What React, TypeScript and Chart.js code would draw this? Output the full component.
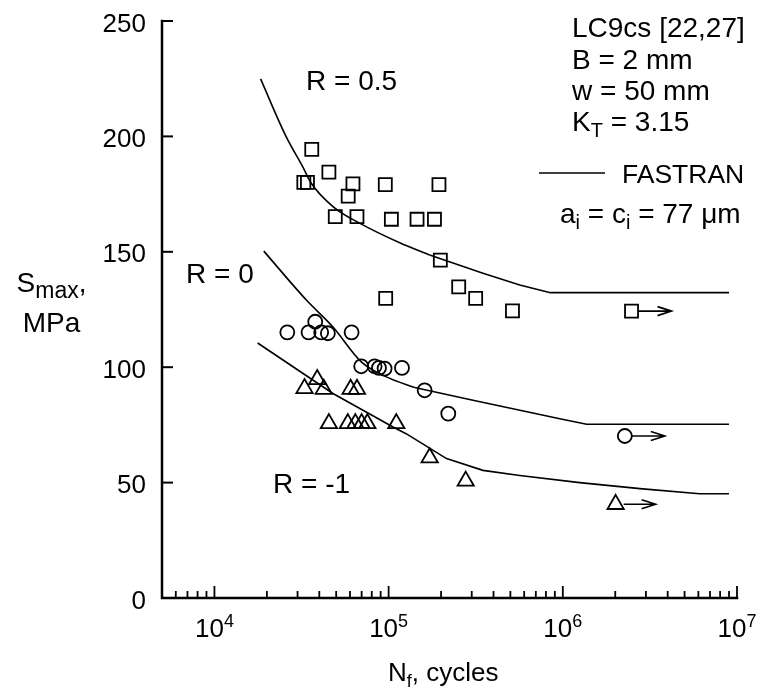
import { useEffect, useRef } from 'react';
import { Chart, registerables } from 'chart.js';

Chart.register(...registerables);

const FONT = '"Liberation Sans", Arial, Helvetica, sans-serif';

// Test results, R = 0.5 (squares)
const sqN = [36200, 45400, 32600, 34200, 62400, 95700, 194500, 58600, 49400, 65800, 103700, 145600, 183300, 198100, 252500, 316000, 96200, 514000];
const sqS = [194.4, 184.5, 180.1, 180.1, 179.4, 179.1, 179.1, 174.1, 165.2, 165.2, 164.1, 164.1, 164.1, 146.4, 134.8, 129.8, 129.8, 124.4];
// Test results, R = 0 (circles)
const ciN = [26200, 34700, 37900, 41000, 44800, 61300, 69600, 83100, 88000, 94800, 119300, 161000, 220000];
const ciS = [115.1, 115.1, 119.7, 115.1, 114.7, 115.1, 100.4, 100.4, 99.7, 99.4, 99.7, 90.0, 79.9];
// Test results, R = -1 (triangles)
const trN = [32900, 38900, 42400, 60500, 65800, 45400, 58300, 64400, 70000, 75500, 110700, 172000, 277000];
const trS = [90.8, 94.7, 90.5, 90.5, 90.5, 75.6, 75.6, 75.6, 75.6, 75.6, 75.6, 60.8, 50.7];

// Run-outs (no failure), one per stress ratio: square, circle, triangle
const runN = [2480000, 2270000, 2010000];
const runS = [124.3, 70.2, 40.6];

// FASTRAN predictions; points up to the bend index are smoothed, the rest are straight segments
const fR05N = [18400, 25800, 32100, 35950, 48100, 68500, 115800, 172000, 348000, 566000, 849000, 9000000];
const fR05S = [224.9, 199.9, 186.9, 179.7, 169.5, 162.3, 153.9, 148.6, 140.7, 135.6, 132.3, 132.3];
const fR05Bend = 7;
const fR0N = [19200, 33700, 47800, 69700, 97000, 141000, 305000, 961000, 1370000, 9000000];
const fR0S = [150.3, 129.1, 117.5, 102.3, 95.8, 91.2, 85.7, 77.7, 75.3, 75.3];
const fR0Bend = 5;
const fRm1N = [17700, 47900, 106000, 126000, 215000, 348000, 566000, 1250000, 2770000, 6100000, 9000000];
const fRm1S = [110.5, 88.6, 74.1, 71.2, 60.4, 55.3, 53.1, 50.0, 47.4, 45.2, 45.2];
const fRm1Bend = 0;

// Axis ticks
const yTicks = [0, 50, 100, 150, 200, 250];
const xDecades = [1e4, 1e5, 1e6, 1e7];
const xDecadeExp = ['4', '5', '6', '7'];

const pts = (n: number[], s: number[]) => n.map((v, i) => ({ x: v, y: s[i] }));

type Part = { t: string; size: number; dy?: number };

function richWidth(ctx: CanvasRenderingContext2D, parts: Part[]) {
  let w = 0;
  for (const p of parts) {
    ctx.font = `${p.size}px ${FONT}`;
    w += ctx.measureText(p.t).width;
  }
  return w;
}

function drawRich(ctx: CanvasRenderingContext2D, parts: Part[], x: number, y: number, align: 'left' | 'center' = 'left') {
  let cx = align === 'center' ? x - richWidth(ctx, parts) / 2 : x;
  ctx.textAlign = 'left';
  ctx.textBaseline = 'alphabetic';
  for (const p of parts) {
    ctx.font = `${p.size}px ${FONT}`;
    ctx.fillText(p.t, cx, y + (p.dy || 0));
    cx += ctx.measureText(p.t).width;
  }
}

const framePlugin = {
  id: 'frame',
  afterDraw(chart: any) {
    const { ctx, chartArea, scales } = chart;
    const xs = scales.x;
    const ys = scales.y;
    const L = chartArea.left;
    const R = chartArea.right;
    const B = chartArea.bottom;
    ctx.save();
    ctx.strokeStyle = '#000';
    ctx.fillStyle = '#000';

    // axis lines
    ctx.lineWidth = 2.5;
    ctx.lineCap = 'square';
    ctx.beginPath();
    ctx.moveTo(L, ys.getPixelForValue(250));
    ctx.lineTo(L, B);
    ctx.lineTo(R, B);
    ctx.stroke();
    ctx.lineCap = 'butt';

    // y ticks and labels
    ctx.lineWidth = 2;
    for (const v of yTicks) {
      const y = ys.getPixelForValue(v);
      if (v > 0) {
        ctx.beginPath();
        ctx.moveTo(L, y);
        ctx.lineTo(L + 11, y);
        ctx.stroke();
      }
      ctx.font = `26px ${FONT}`;
      ctx.textAlign = 'right';
      ctx.textBaseline = 'alphabetic';
      ctx.fillText(String(v), L - 16, y + 10.5);
    }

    // x ticks (log decades with minor ticks)
    ctx.lineWidth = 1.8;
    for (let d = 1e3; d <= 1e7; d *= 10) {
      for (let m = 1; m <= 9; m++) {
        const v = m * d;
        if (v < 5000 || v > 1e7) continue;
        const x = xs.getPixelForValue(v);
        const len = m === 1 ? 12 : 7;
        ctx.beginPath();
        ctx.moveTo(x, B);
        ctx.lineTo(x, B - len);
        ctx.stroke();
      }
    }
    xDecades.forEach((v, i) => {
      const x = xs.getPixelForValue(v);
      drawRich(ctx, [{ t: '10', size: 26 }, { t: xDecadeExp[i], size: 18, dy: -10 }], x, 637, 'center');
    });

    // axis titles
    drawRich(ctx, [{ t: 'N', size: 26 }, { t: 'f', size: 18, dy: 6 }, { t: ', cycles', size: 26 }], 388, 681);
    drawRich(ctx, [{ t: 'S', size: 28 }, { t: 'max', size: 23, dy: 6 }, { t: ',', size: 28 }], 51.5, 292, 'center');
    drawRich(ctx, [{ t: 'MPa', size: 28 }], 51.5, 332, 'center');

    // curve labels
    drawRich(ctx, [{ t: 'R = 0.5', size: 28 }], 306, 90);
    drawRich(ctx, [{ t: 'R = 0', size: 28 }], 186, 283);
    drawRich(ctx, [{ t: 'R = -1', size: 28 }], 273, 493);

    // specimen notes
    drawRich(ctx, [{ t: 'LC9cs [22,27]', size: 28 }], 572, 37);
    drawRich(ctx, [{ t: 'B = 2 mm', size: 28 }], 572, 68.5);
    drawRich(ctx, [{ t: 'w = 50 mm', size: 28 }], 572, 99.5);
    drawRich(ctx, [{ t: 'K', size: 28 }, { t: 'T', size: 20, dy: 6 }, { t: ' = 3.15', size: 28 }], 572, 130.5);

    // legend
    ctx.lineWidth = 1.6;
    ctx.beginPath();
    ctx.moveTo(539, 173);
    ctx.lineTo(605, 173);
    ctx.stroke();
    drawRich(ctx, [{ t: 'FASTRAN', size: 26.5 }], 622, 182.5);
    drawRich(
      ctx,
      [
        { t: 'a', size: 28 },
        { t: 'i', size: 20, dy: 6 },
        { t: ' = c', size: 28 },
        { t: 'i', size: 20, dy: 6 },
        { t: ' = 77 \u03BCm', size: 28 },
      ],
      560,
      222.5
    );

    // run-out arrows
    const edge = [6.5, 7, 8];
    ctx.lineWidth = 1.6;
    runN.forEach((n, i) => {
      const x0 = xs.getPixelForValue(n);
      const y = ys.getPixelForValue(runS[i]);
      const tip = x0 + 40;
      ctx.beginPath();
      ctx.moveTo(x0 + edge[i], y);
      ctx.lineTo(tip, y);
      ctx.moveTo(tip - 14, y - 4.5);
      ctx.lineTo(tip, y);
      ctx.lineTo(tip - 14, y + 4.5);
      ctx.stroke();
    });

    ctx.restore();
  },
};

export default function App() {
  const ref = useRef<HTMLCanvasElement>(null);

  useEffect(() => {
    if (!ref.current) return;
    const line = (n: number[], s: number[], smooth: boolean) => ({
      data: pts(n, s),
      showLine: true,
      pointRadius: 0,
      borderColor: '#000',
      borderWidth: 1.6,
      tension: 0,
      cubicInterpolationMode: smooth ? 'monotone' : 'default',
      fill: false,
    });
    // smoothed head plus straight tail, joined at the bend index
    const curve = (n: number[], s: number[], bend: number) => {
      const out: any[] = [];
      if (bend > 0) out.push(line(n.slice(0, bend + 1), s.slice(0, bend + 1), true));
      out.push(line(n.slice(bend), s.slice(bend), false));
      return out;
    };
    const marks = (data: any[], style: string, r: number) => ({
      data,
      showLine: false,
      pointStyle: style,
      pointRadius: r,
      pointBorderColor: '#000',
      pointBackgroundColor: 'rgba(0,0,0,0)',
      pointBorderWidth: 1.8,
    });

    const chart = new Chart(ref.current, {
      type: 'scatter',
      data: {
        datasets: [
          ...curve(fR05N, fR05S, fR05Bend),
          ...curve(fR0N, fR0S, fR0Bend),
          ...curve(fRm1N, fRm1S, fRm1Bend),
          marks([...pts(sqN, sqS), { x: runN[0], y: runS[0] }], 'rect', 9.2),
          marks([...pts(ciN, ciS), { x: runN[1], y: runS[1] }], 'circle', 7),
          marks([...pts(trN, trS), { x: runN[2], y: runS[2] }], 'triangle', 9.4),
        ] as any,
      },
      options: {
        responsive: false,
        animation: false,
        events: [],
        layout: { padding: { left: 162, right: 21, top: 21, bottom: 92 } },
        plugins: { legend: { display: false }, tooltip: { enabled: false } },
        scales: {
          x: { type: 'logarithmic', min: 5000, max: 1e7, display: false },
          y: { type: 'linear', min: 0, max: 250, display: false },
        },
      },
      plugins: [framePlugin],
    });
    return () => chart.destroy();
  }, []);

  return (
    <div style={{ position: 'absolute', left: 0, top: 0, width: 758, height: 690, background: '#fff' }}>
      <canvas ref={ref} width={758} height={690} />
    </div>
  );
}
